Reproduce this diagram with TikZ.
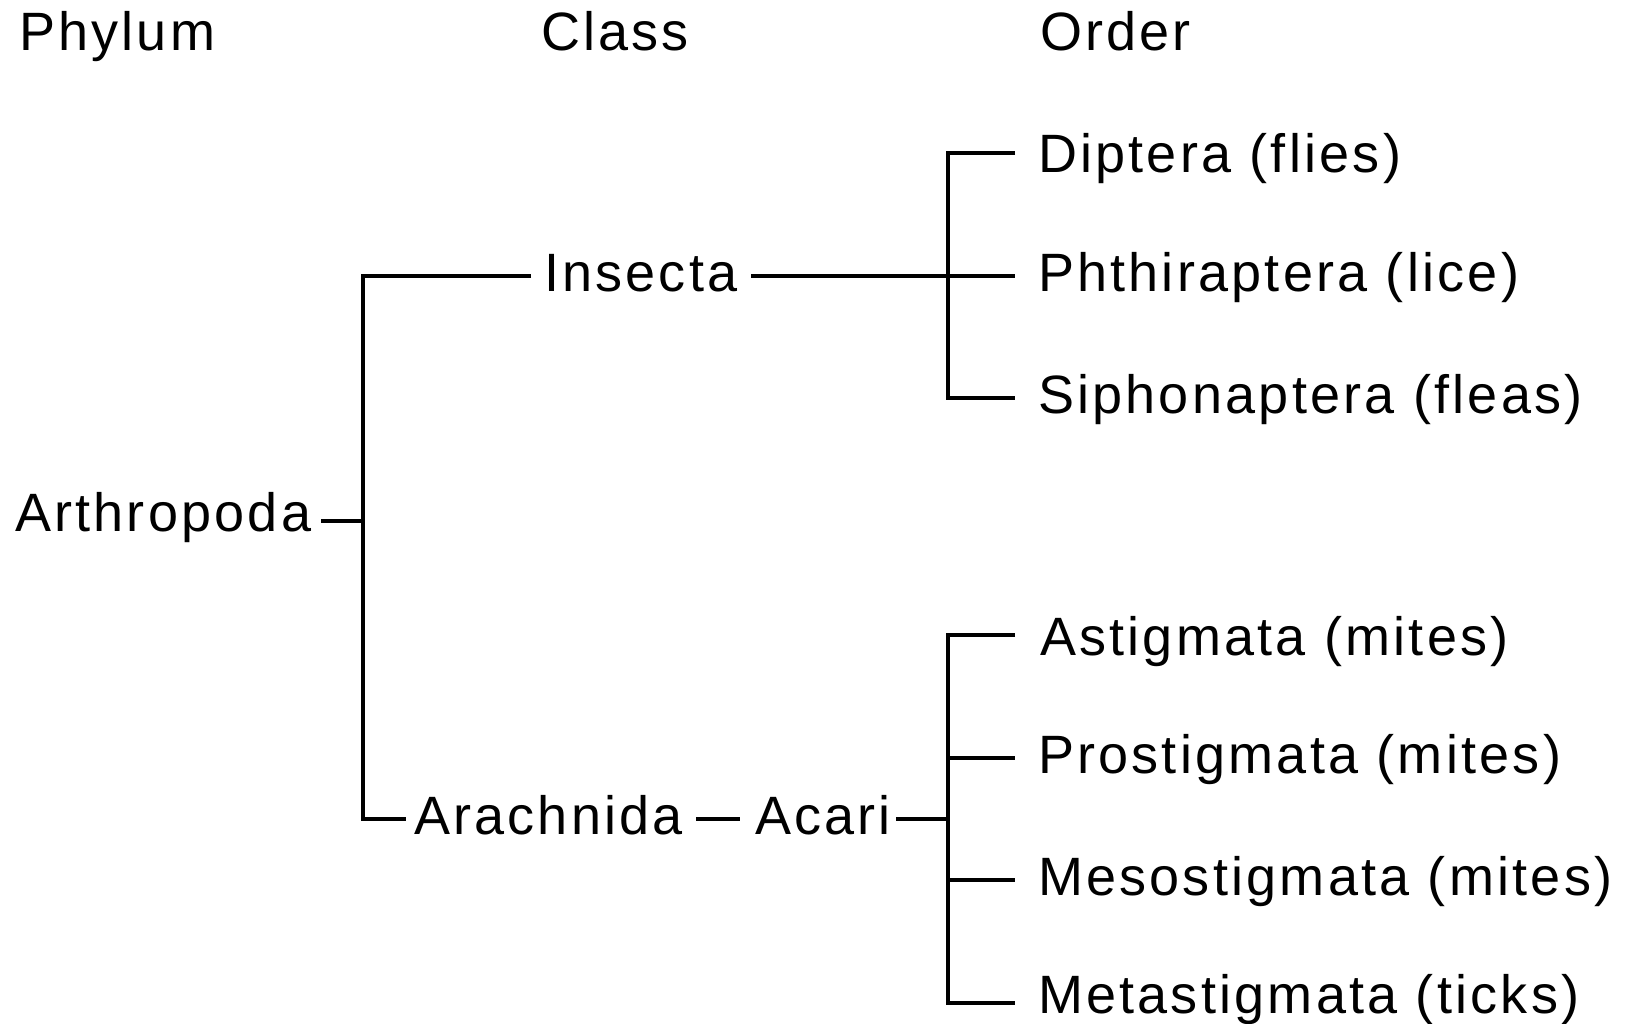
\documentclass[tikz,border=0pt]{standalone}
\usepackage{fontspec}
\setmainfont{Liberation Sans}[LetterSpace=6]
\begin{document}
\begin{tikzpicture}[x=1pt,y=-1pt,
  lbl/.style={anchor=base west, inner sep=0pt, outer sep=0pt, font=\fontsize{54}{60}\selectfont},
  link/.style={line width=4.5pt, draw=black}]
\useasboundingbox (0,0) rectangle (1635,1024);
% headers
\node[lbl] (phylum) at (19,51) {Phylum};
\node[lbl] (class) at (541,51) {Class};
\node[lbl] (order) at (1040,51) {Order};
% taxa
\node[lbl] (arthro) at (15,531) {Arthropoda};
\node[lbl] (insecta) at (544,291) {Insecta};
\node[lbl] (arach) at (414,834) {Arachnida};
\node[lbl] (acari) at (755,834) {Acari};
\node[lbl] (dip) at (1038,173) {Diptera (flies)};
\node[lbl] (phth) at (1038,291) {Phthiraptera (lice)};
\node[lbl] (siph) at (1038,413) {Siphonaptera (fleas)};
\node[lbl] (astig) at (1040,655) {Astigmata (mites)};
\node[lbl] (prost) at (1038,773) {Prostigmata (mites)};
\node[lbl] (meso) at (1038,895) {Mesostigmata (mites)};
\node[lbl] (meta) at (1038,1013) {Metastigmata (ticks)};
% junctions and line ends
\coordinate (arthroR) at (321,521);
\coordinate (jP) at (363,521);
\coordinate (jPtop) at (363,276);
\coordinate (jPbot) at (363,819);
\coordinate (insL) at (531,276);
\coordinate (insR) at (751,276);
\coordinate (arachL) at (406,819);
\coordinate (dashL) at (696,819);
\coordinate (dashR) at (740,819);
\coordinate (acariR) at (896,819);
\coordinate (jI) at (948,276);
\coordinate (jItop) at (948,153);
\coordinate (jIbot) at (948,398);
\coordinate (dipL) at (1015,153);
\coordinate (phthL) at (1015,276);
\coordinate (siphL) at (1015,398);
\coordinate (jA) at (948,819);
\coordinate (jAtop) at (948,635);
\coordinate (jAbot) at (948,1003);
\coordinate (astigL) at (1015,635);
\coordinate (prostL) at (1015,758);
\coordinate (mesoL) at (1015,880);
\coordinate (metaL) at (1015,1003);
% connectors
\draw[link] (arthroR) -- (jP);
\draw[link] (insL) -- (jPtop) -- (jPbot) -- (arachL);
\draw[link] (insR) -- (phthL);
\draw[link] (dipL) -- (jItop) -- (jIbot) -- (siphL);
\draw[link] (dashL) -- (dashR);
\draw[link] (acariR) -- (jA);
\draw[link] (astigL) -- (jAtop) -- (jAbot) -- (metaL);
\draw[link] (jA |- prostL) -- (prostL);
\draw[link] (jA |- mesoL) -- (mesoL);
\end{tikzpicture}
\end{document}
